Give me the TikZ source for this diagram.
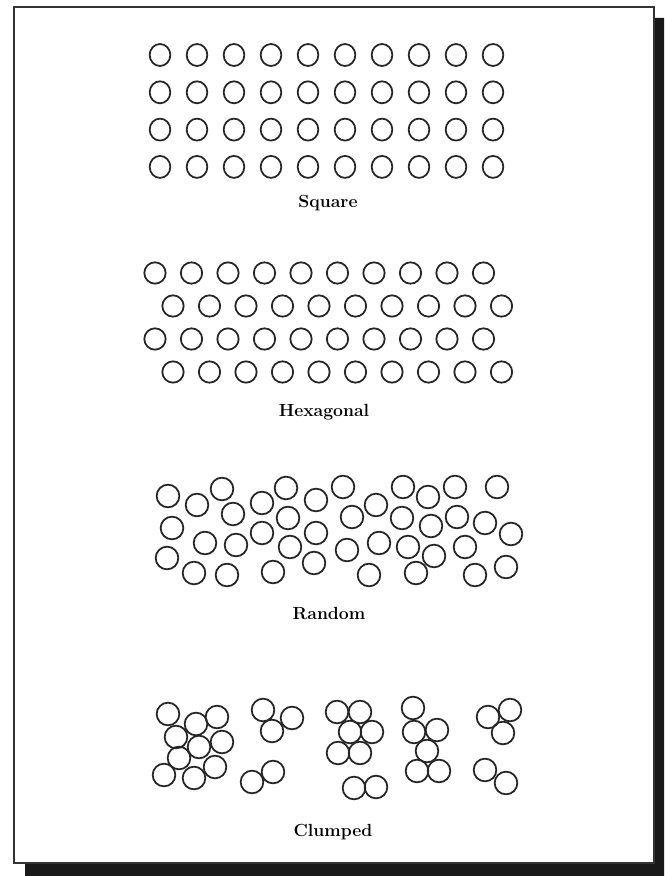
\documentclass[tikz,border=0pt]{standalone}
\usepackage{tikz}

\begin{document}
\begin{tikzpicture}[x=0.03cm, y=-0.03cm, font=\fontsize{15}{18}\selectfont\bfseries,
  grain/.style={draw=black!85, line width=1.5pt}]
  \useasboundingbox (0,0) rectangle (664,876);
  % page with its drop shadow
  \fill[black!90] (654,18) -- (664,18) -- (664,876) -- (25,876) -- (25,863) -- (654,863) -- cycle;
  \draw[line width=1.4pt, color=black!80, fill=white] (14,7) rectangle (654,863);
  % square packing
  \foreach \row in {0,...,3}
    \foreach \col in {0,...,9}
      \draw[grain] (160+37*\col, 55+37.3*\row) circle[x radius=0.31cm, y radius=0.33cm];
  \node (square) at (328,203) {Square};
  % hexagonal packing: every other row shifted by half a step
  \foreach \row in {0,...,3} {
    \pgfmathsetmacro{\shift}{mod(\row,2)*18}
    \foreach \col in {0,...,9}
      \draw[grain] (155+\shift+36.5*\col, 273+33*\row) circle[radius=0.32cm];
  }
  \node (hexagonal) at (324,412) {Hexagonal};
  % random packing
  \foreach \px/\py in {168/496, 197/505, 222/489, 172/528, 233/514, 205/543, 236/545,
      167/558, 194/573, 227/575, 262/503, 286/488, 288/518, 262/533, 290/547, 273/572,
      316/500, 316/533, 314/563, 343/487, 352/517, 347/550, 376/505, 379/543, 369/575,
      403/487, 402/518, 408/547, 416/573, 428/497, 431/526, 434/556, 455/487, 457/517,
      465/547, 485/523, 497/487, 475/575, 511/534, 506/567}
    \draw[grain] (\px,\py) circle[radius=0.34cm];
  \node (random) at (329,614) {Random};
  % clumped packing, five clusters
  \foreach \px/\py in {168/714, 196/724, 217/717, 176/737, 199/747, 222/742, 179/758,
      164/775, 194/778, 215/767,
      263/710, 292/718, 272/731, 273/772, 252/782,
      337/712, 360/712, 350/732, 372/732, 338/753, 360/753, 354/788, 376/787,
      413/708, 414/732, 437/730, 427/751, 417/771, 439/771,
      488/717, 510/710, 503/733, 485/770, 506/783}
    \draw[grain] (\px,\py) circle[radius=0.34cm];
  \node (clumped) at (333,832) {Clumped};
\end{tikzpicture}
\end{document}
